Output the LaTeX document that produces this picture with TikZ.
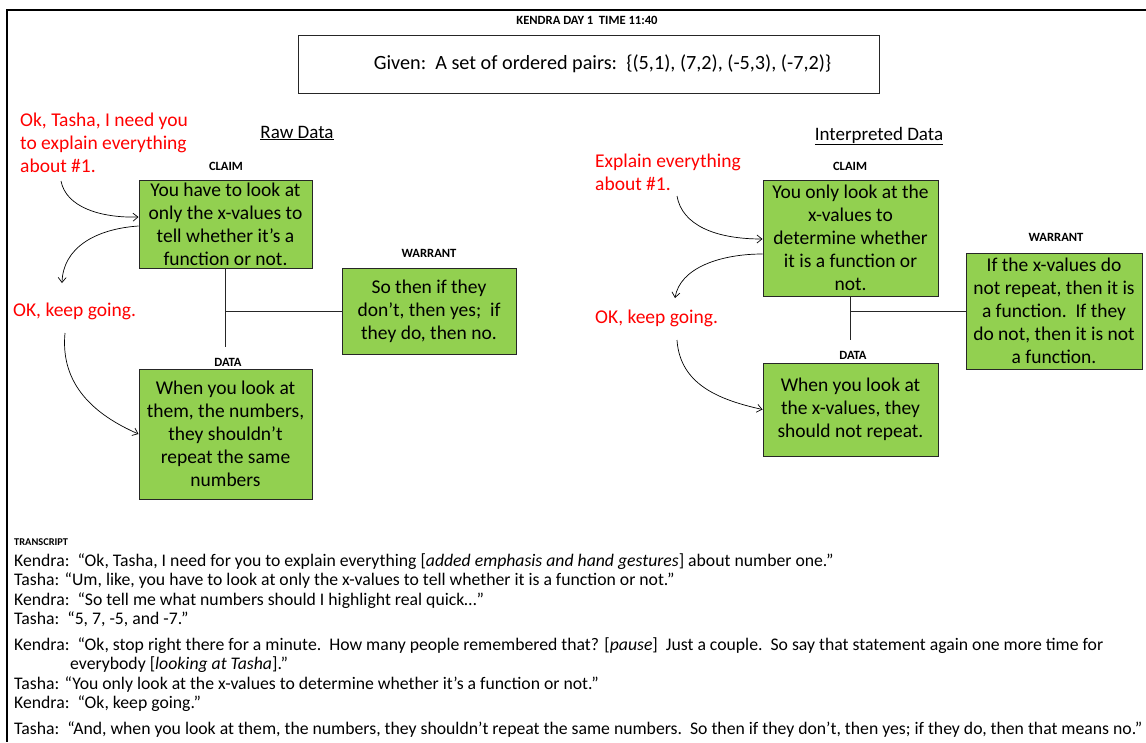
\documentclass[tikz,border=0pt]{standalone}
\usepackage{fontspec}
\setmainfont{Carlito}
\usetikzlibrary{arrows.meta}
\definecolor{boxgreen}{RGB}{146,208,80}
\definecolor{talkred}{RGB}{255,0,0}
\begin{document}
\begin{tikzpicture}[x=1pt,y=-1pt,
  box/.style={draw=black!85,fill=boxgreen,line width=1pt,inner sep=0pt,align=center,
    font=\fontsize{19.5}{23}\selectfont},
  tag/.style={font=\fontsize{12.6}{14}\selectfont\bfseries},
  talk/.style={text=talkred,align=left,inner sep=0pt,anchor=west,
    font=\fontsize{19.5}{23}\selectfont},
  heading/.style={font=\fontsize{19}{22.8}\selectfont,inner sep=0pt},
  line/.style={draw=black!85,line width=0.9pt},
  arr/.style={draw=black,line width=0.7pt,-{Straight Barb[length=5pt,width=8pt]}},
  tline/.style={anchor=base west,inner sep=0pt,font=\fontsize{17.7}{19.5}\selectfont}]
\useasboundingbox (0,0) rectangle (1146,742);
\fill[white] (0,0) rectangle (1146,742);
% page frame
\draw[line width=2pt] (1146,10) -- (7,10) -- (7,742);

\node[tag] (title) at (587,20) {KENDRA DAY 1\ \ TIME 11:40};
\node[draw=black!85,line width=0.9pt,minimum width=581,minimum height=58] (given) at (588.5,64) {};
\node[font=\fontsize{20.2}{24}\selectfont,inner sep=0pt] (giventext) at (602.5,64)
  {Given:\ \ A set of ordered pairs:\ \ \{(5,1), (7,2), (-5,3), (-7,2)\}};

% ---- raw data ----
\node[heading] (rawhead) at (297,133) {\underline{Raw Data}};
\node[talk] (askL) at (20,143) {Ok, Tasha, I need you\\to explain everything\\about \#1.};
\node[talk] (goL) at (13,311) {OK, keep going.};

\node[tag] (claimLtag) at (226,166) {CLAIM};
\node[box,minimum width=173,minimum height=88] (claimL) at (225.5,224)
  {You have to look at\\only the x-values to\\tell whether it’s a\\function or not.};
\node[tag] (warrantLtag) at (429,253) {WARRANT};
\node[box,minimum width=174,minimum height=86] (warrantL) at (429,311)
  {So then if they\\don’t, then yes;\ \ if\\they do, then no.};
\node[tag] (dataLtag) at (228,362) {DATA};
\node[box,minimum width=173,minimum height=130] (dataL) at (225.5,434)
  {When you look at\\them, the numbers,\\they shouldn’t\\repeat the same\\numbers};

\coordinate (vL) at (225.5,347);
\coordinate (jL) at (225.5,311);
\draw[line] (claimL.south) -- (vL);
\draw[line] (jL) -- (warrantL.west);

\coordinate (a1s) at (61,181);
\coordinate (a2e) at (62,283);
\coordinate (a3s) at (65,333);
\draw[arr] (a1s) .. controls (66,207) and (100,218) .. ([yshift=7pt]claimL.west);
\draw[arr] ([yshift=-2pt]claimL.west) .. controls (95,229) and (63,248) .. (a2e);
\draw[arr] (a3s) .. controls (60,385) and (95,415) .. (dataL.west);

% ---- interpreted data ----
\node[heading] (inthead) at (879,136) {\underline{Interpreted Data}};
\node[talk] (askR) at (595,172.5) {Explain everything\\about \#1.};
\node[talk] (goR) at (595,318) {OK, keep going.};

\node[tag] (claimRtag) at (850,166) {CLAIM};
\node[box,minimum width=175,minimum height=116] (claimR) at (850.5,238)
  {You only look at the\\x-values to\\determine whether\\it is a function or\\not.};
\node[tag] (warrantRtag) at (1056,237) {WARRANT};
\node[box,minimum width=176,minimum height=116] (warrantR) at (1054,311)
  {If the x-values do\\not repeat, then it is\\a function.\ \ If they\\do not, then it is not\\a function.};
\node[tag] (dataRtag) at (853,355) {DATA};
\node[box,minimum width=175,minimum height=93] (dataR) at (850.5,409.5)
  {When you look at\\the x-values, they\\should not repeat.};

\coordinate (vR) at (850.5,340);
\coordinate (jR) at (850.5,311);
\draw[line] (claimR.south) -- (vR);
\draw[line] (jR) -- (warrantR.west);

\coordinate (a4s) at (677,196);
\coordinate (a5e) at (675,298);
\coordinate (a6s) at (677,340);
\draw[arr] (a4s) .. controls (682,225) and (715,239) .. ([yshift=-1pt]claimR.west);
\draw[arr] ([yshift=-16pt]claimR.west) .. controls (720,254) and (680,268) .. (a5e);
\draw[arr] (a6s) .. controls (680,385) and (720,400) .. (dataR.west);

% ---- transcript ----
\node[anchor=base west,inner sep=0pt,font=\fontsize{10.4}{12}\selectfont\bfseries] (trhead) at (14,545) {TRANSCRIPT};
\node[tline] (t1) at (14,566) {Kendra:\ \ “Ok, Tasha, I need for you to explain everything [\textit{added emphasis and hand gestures}] about number one.”};
\node[tline] (t2) at (14,585) {Tasha: “Um, like, you have to look at only the x-values to tell whether it is a function or not.”};
\node[tline] (t3) at (14,605) {Kendra:\ \ “So tell me what numbers should I highlight real quick…”};
\node[tline] (t4) at (14,624) {Tasha:\ \ “5, 7, -5, and -7.”};
\node[tline] (t5) at (14,650) {Kendra:\ \ “Ok, stop right there for a minute.\ \ How many people remembered that? [\textit{pause}]\ \ Just a couple.\ \ So say that statement again one more time for};
\node[tline] (t6) at (70,669) {everybody [\textit{looking at Tasha}].”};
\node[tline] (t7) at (14,689) {Tasha: “You only look at the x-values to determine whether it’s a function or not.”};
\node[tline] (t8) at (14,708) {Kendra:\ \ “Ok, keep going.”};
\node[tline] (t9) at (14,734) {Tasha:\ \ “And, when you look at them, the numbers, they shouldn’t repeat the same numbers.\ \ So then if they don’t, then yes; if they do, then that means no.”};
\end{tikzpicture}
\end{document}
